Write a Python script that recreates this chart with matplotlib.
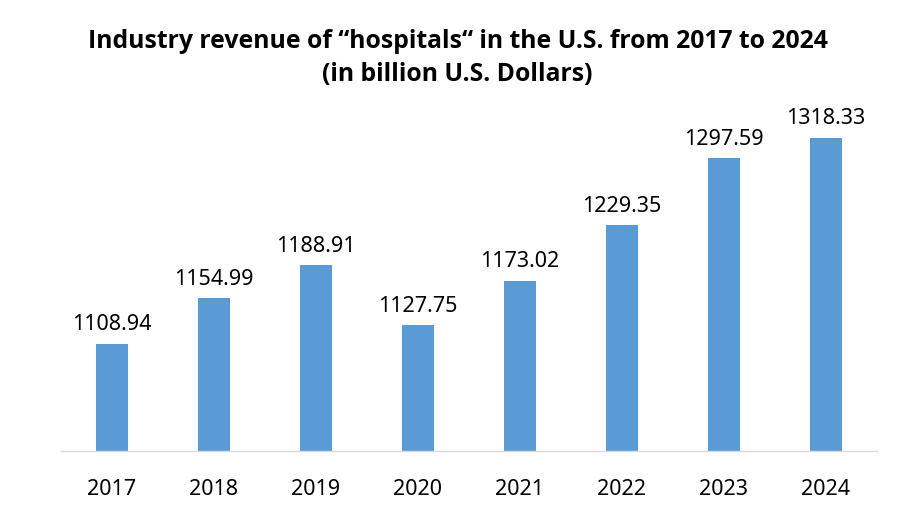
import matplotlib.pyplot as plt

years = ["2017", "2018", "2019", "2020", "2021", "2022", "2023", "2024"]
revenue = [1108.94, 1154.99, 1188.91, 1127.75, 1173.02, 1229.35, 1297.59, 1318.33]

plt.rcParams['font.family'] = ['Noto Sans', 'DejaVu Sans']

fig = plt.figure(figsize=(9.15, 5.25), dpi=100)
ax = fig.add_axes([61 / 915, 74 / 525, 816 / 915, 0.75])

x = range(len(years))
bars = ax.bar(x, revenue, width=0.31, color='#5B9BD5', bottom=0)
ax.set_ylim(1000, 1400)
ax.set_xlim(-0.5, len(years) - 0.5)

for xi, v in zip(x, revenue):
    ax.annotate(f"{v:.2f}", (xi, v), xytext=(0, 6), textcoords='offset points',
                ha='center', va='bottom', fontsize=15.5, color='#000000')

ax.set_xticks(list(x))
ax.set_xticklabels(years, fontsize=15.5)
ax.tick_params(axis='x', length=0, pad=20)
ax.set_yticks([])
for side in ['top', 'right', 'left']:
    ax.spines[side].set_visible(False)
ax.spines['bottom'].set_color('#D9D9D9')
ax.spines['bottom'].set_linewidth(1)

title_font = dict(family=['Open Sans', 'DejaVu Sans'], fontsize=17.8, fontweight='bold')
fig.text(0.5, 1 - 41 / 525, "Industry revenue of \u201chospitals\u201c in the U.S. from 2017 to 2024",
         ha='center', va='center', **title_font)
fig.text(0.5, 1 - 75 / 525, "(in billion U.S. Dollars)",
         ha='center', va='center', **title_font)

fig.savefig('out.png', dpi=100)
